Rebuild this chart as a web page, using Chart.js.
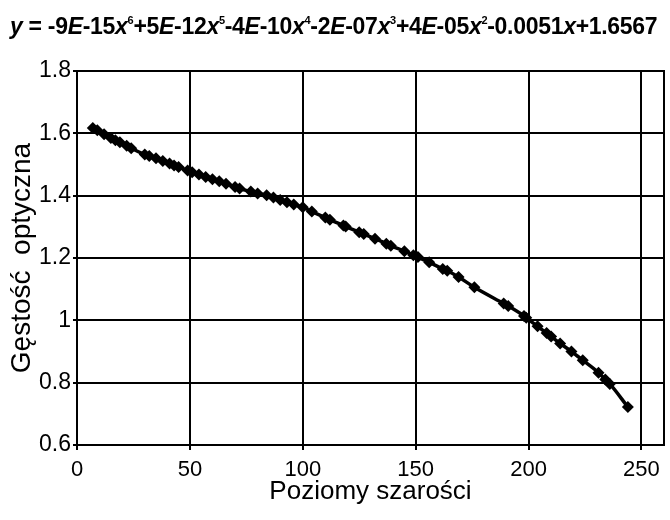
<!DOCTYPE html>
<html>
<head>
<meta charset="utf-8">
<script src="https://cdn.jsdelivr.net/npm/chart.js@4"></script>
<style>
  html, body { margin: 0; padding: 0; background: #fff; }
  #wrap { position: relative; width: 670px; height: 520px; overflow: hidden; }
  #chart { position: absolute; left: 0; top: 0; }
  #eq { position: absolute; left: 10px; top: 13px; font-family: "Liberation Sans", Arial, sans-serif; font-weight: bold; font-size: 23px; color: #000; white-space: nowrap; letter-spacing: -0.3px; }
  #eq sup { font-size: 11px; vertical-align: 10px; line-height: 0; }
</style>
</head>
<body>
<div id="wrap">
  <canvas id="chart" width="670" height="520"></canvas>
  <div id="eq"><i>y</i> = -9<i>E</i>-15<i>x</i><sup>6</sup>+5<i>E</i>-12<i>x</i><sup>5</sup>-4<i>E</i>-10<i>x</i><sup>4</sup>-2<i>E</i>-07<i>x</i><sup>3</sup>+4<i>E</i>-05<i>x</i><sup>2</sup>-0.0051<i>x</i>+1.6567</div>
</div>
<script>
const grayLevels = [7, 9, 12, 15, 17, 19, 22, 24, 30, 32, 35, 38, 41, 43, 45, 49, 51, 54, 57, 60, 63, 66, 70, 72, 77, 80, 84, 87, 90, 93, 96, 100, 104, 110, 112, 118, 119, 125, 127, 132, 137, 139, 145, 149, 151, 156, 162, 164, 169, 176, 189, 191, 198, 199, 204, 208, 210, 214, 219, 224, 231, 234, 236, 244];
const opticalDensity = [1.617, 1.610, 1.597, 1.585, 1.578, 1.571, 1.560, 1.552, 1.532, 1.527, 1.520, 1.511, 1.503, 1.497, 1.492, 1.481, 1.475, 1.468, 1.460, 1.453, 1.446, 1.438, 1.428, 1.423, 1.413, 1.407, 1.401, 1.394, 1.386, 1.379, 1.372, 1.363, 1.349, 1.330, 1.323, 1.304, 1.301, 1.283, 1.277, 1.262, 1.246, 1.239, 1.222, 1.209, 1.203, 1.186, 1.165, 1.159, 1.139, 1.106, 1.054, 1.046, 1.014, 1.008, 0.981, 0.959, 0.948, 0.926, 0.900, 0.872, 0.832, 0.810, 0.796, 0.722];
const xTicks = [0, 50, 100, 150, 200, 250];
const yTicks = [0.6, 0.8, 1, 1.2, 1.4, 1.6, 1.8];
const yTickLabels = ['0.6', '0.8', '1', '1.2', '1.4', '1.6', '1.8'];
const xTitle = 'Poziomy szarości';
const yTitle = 'Gęstość  optyczna';

const points = grayLevels.map((x, i) => ({ x: x, y: opticalDensity[i] }));
const FONT = '"Liberation Sans", Arial, sans-serif';

const rightBorder = {
  id: 'rightBorder',
  afterDraw(chart) {
    const { ctx, chartArea } = chart;
    ctx.save();
    ctx.strokeStyle = '#000';
    ctx.lineWidth = 2;
    ctx.beginPath();
    ctx.moveTo(chartArea.right, chartArea.top - 1);
    ctx.lineTo(chartArea.right, chartArea.bottom + 1);
    ctx.stroke();
    ctx.restore();
  }
};

new Chart(document.getElementById('chart'), {
  type: 'line',
  data: {
    datasets: [{
      data: points,
      borderColor: '#000',
      backgroundColor: '#000',
      borderWidth: 3.5,
      pointStyle: 'rectRot',
      pointRadius: 6,
      pointBorderWidth: 0,
      tension: 0.4,
      cubicInterpolationMode: 'monotone'
    }]
  },
  options: {
    responsive: false,
    animation: false,
    devicePixelRatio: 1,
    layout: { padding: { top: 71, right: 2, left: 0, bottom: 0 } },
    plugins: { legend: { display: false }, tooltip: { enabled: false } },
    scales: {
      x: {
        type: 'linear', min: 0, max: 260,
        afterBuildTicks: axis => { axis.ticks = xTicks.map(v => ({ value: v })); },
        afterFit: axis => { axis.height = 75; },
        grid: { color: '#000', lineWidth: 2, tickLength: 5 },
        border: { color: '#000', width: 2 },
        ticks: { color: '#000', font: { family: FONT, size: 22 }, padding: 7, maxRotation: 0 },
        title: { display: true, text: xTitle, color: '#000', font: { family: FONT, size: 26 }, padding: { bottom: 13 } }
      },
      y: {
        type: 'linear', min: 0.6, max: 1.8,
        afterBuildTicks: axis => { axis.ticks = yTicks.map(v => ({ value: v })); },
        afterFit: axis => { axis.width = 77; },
        grid: { color: '#000', lineWidth: 2, tickLength: 4 },
        border: { color: '#000', width: 2 },
        ticks: {
          color: '#000', font: { family: FONT, size: 23 }, padding: 2,
          callback: (v) => { const i = yTicks.findIndex(t => Math.abs(t - v) < 1e-6); return i >= 0 ? yTickLabels[i] : ''; }
        },
        title: { display: true, text: yTitle, color: '#000', font: { family: FONT, size: 28 }, padding: { top: 5 } }
      }
    }
  },
  plugins: [rightBorder]
});
</script>
</body>
</html>
